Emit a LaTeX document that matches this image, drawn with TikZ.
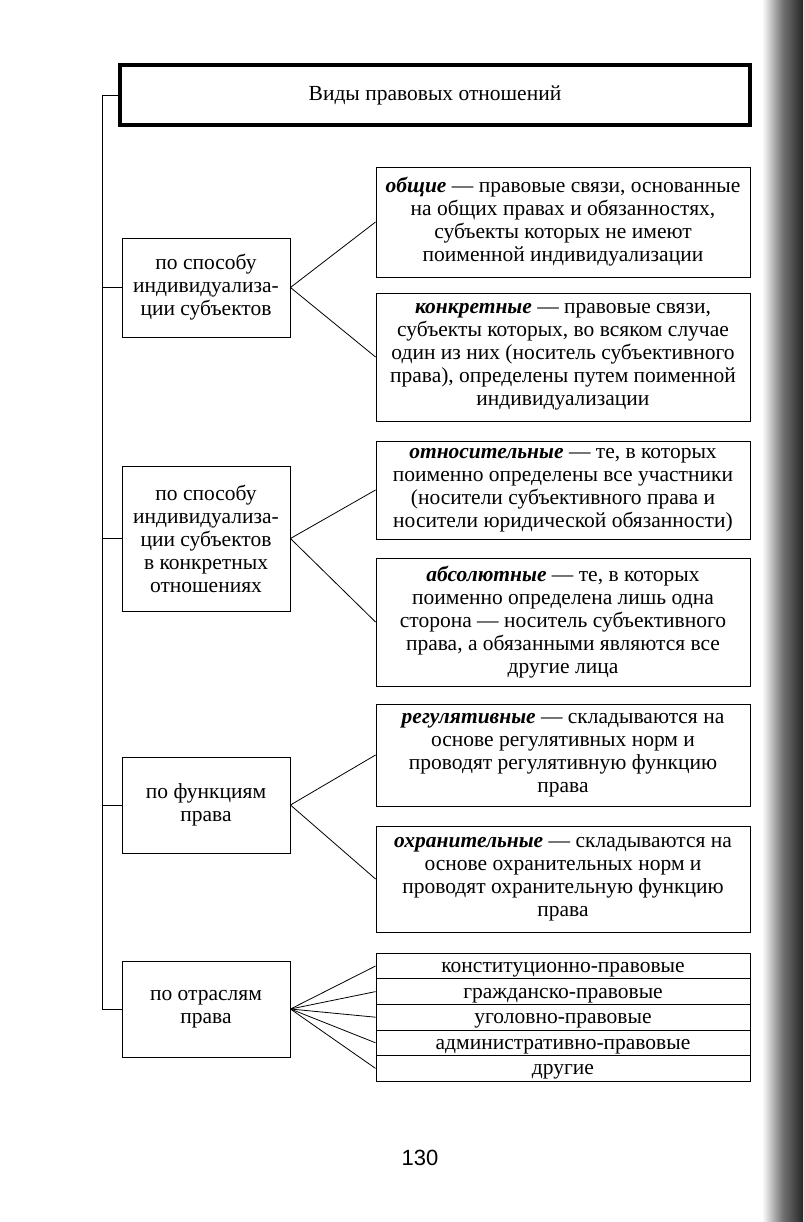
\documentclass[tikz,border=0pt]{standalone}
\usepackage{fontspec}
\setmainfont{Liberation Serif}
\newfontfamily\pagenumfont{Liberation Sans}
\begin{document}
\begin{tikzpicture}[x=1pt,y=-1pt,
  txt/.style={font=\fontsize{21.5}{23}\selectfont},
  box/.style={draw, line width=0.9pt, inner sep=0pt, align=center, txt},
  rbox/.style={box, minimum width=374pt},
  lbox/.style={box, minimum width=168pt},
  row/.style={rbox, minimum height=25.6pt, text depth=0pt, text height=13pt},
  link/.style={line width=0.8pt}]
\useasboundingbox (0,0) rectangle (803,1222);
\shade[left color=white, right color=black!85, middle color=black!55] (762,0) rectangle (803,1222);
% title
\node[draw, line width=3.5pt, minimum width=630pt, minimum height=60pt, txt] (title) at (435,95) {Виды правовых отношений};
% left boxes
\node[lbox, minimum height=99pt] (l1) at (206,287.5) {по способу\\индивидуализа-\\ции субъектов};
\node[lbox, minimum height=145pt] (l2) at (206,538.5) {по способу\\индивидуализа-\\ции субъектов\\в конкретных\\отношениях};
\node[lbox, minimum height=96pt] (l3) at (206,805) {по функциям\\права};
\node[lbox, minimum height=96pt] (l4) at (206,1009) {по отраслям\\права};
% right boxes
\node[rbox, minimum height=110pt] (r1) at (563,222) {\textbf{\textit{общие}} — правовые связи, основанные\\на общих правах и обязанностях,\\субъекты которых не имеют\\поименной индивидуализации};
\node[rbox, minimum height=128pt] (r2) at (563,357) {\textbf{\textit{конкретные}} — правовые связи,\\субъекты которых, во всяком случае\\один из них (носитель субъективного\\права), определены путем поименной\\индивидуализации};
\node[rbox, minimum height=98pt] (r3) at (563,490) {\textbf{\textit{относительные}} — те, в которых\\поименно определены все участники\\(носители субъективного права и\\носители юридической обязанности)};
\node[rbox, minimum height=128pt] (r4) at (563,622) {\textbf{\textit{абсолютные}} — те, в которых\\поименно определена лишь одна\\сторона — носитель субъективного\\права, а обязанными являются все\\другие лица};
\node[rbox, minimum height=102pt] (r5) at (563,755) {\textbf{\textit{регулятивные}} — складываются на\\основе регулятивных норм и\\проводят регулятивную функцию\\права};
\node[rbox, minimum height=106pt] (r6) at (563,879) {\textbf{\textit{охранительные}} — складываются на\\основе охранительных норм и\\проводят охранительную функцию\\права};
% list rows
\node[row] (k1) at (563,966) {конституционно-правовые};
\node[row] (k2) at (563,991.6) {гражданско-правовые};
\node[row] (k3) at (563,1017.2) {уголовно-правовые};
\node[row] (k4) at (563,1042.8) {административно-правовые};
\node[row] (k5) at (563,1068.4) {другие};
% spine
\coordinate (sp) at (102,95);
\draw[link] (title.west) -- (sp) |- (l4.west);
\draw[link] (sp |- l1.west) -- (l1.west);
\draw[link] (sp |- l2.west) -- (l2.west);
\draw[link] (sp |- l3.west) -- (l3.west);
% fans
\draw[link] (r1.west) -- (l1.east) -- (r2.west);
\draw[link] (r3.west) -- (l2.east) -- (r4.west);
\draw[link] (r5.west) -- (l3.east) -- (r6.west);
\foreach \k in {k1,k2,k3,k4,k5} \draw[link] (l4.east) -- (\k.west);
% page number
\node[font=\pagenumfont\fontsize{22}{26}\selectfont] (pg) at (420,1158) {130};
\end{tikzpicture}
\end{document}
